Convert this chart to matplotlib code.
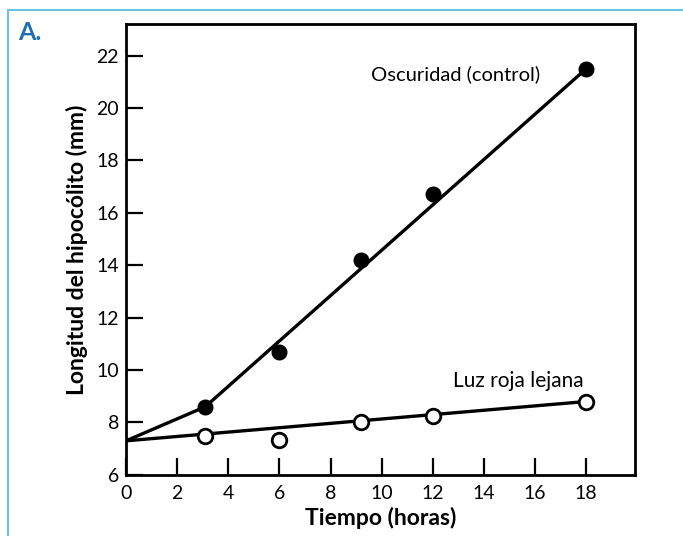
import matplotlib
matplotlib.use("Agg")
from matplotlib import pyplot as plt
from matplotlib.patches import Rectangle

# data
hours = [3.1, 6.0, 9.2, 12.0, 18.0]
dark_len = [8.6, 10.7, 14.2, 16.7, 21.5]      # Oscuridad (control)
farred_len = [7.5, 7.35, 8.0, 8.25, 8.8]      # Luz roja lejana

# drawn lines (start at t=0)
dark_line_x = [0, 3.1, 18.0]
dark_line_y = [7.3, 8.6, 21.5]
farred_line_x = [0, 18.0]
farred_line_y = [7.3, 8.8]

xticks = list(range(0, 20, 2))
yticks = list(range(6, 24, 2))

plt.rcParams['font.family'] = ['Lato', 'DejaVu Sans']

fig = plt.figure(figsize=(6.83, 5.36), dpi=100)
ax = fig.add_axes([0.1845, 0.114, 0.745, 0.841])

# outer frame of the panel
fig.patches.append(Rectangle((0.012, -0.01), 1.0, 0.992, transform=fig.transFigure,
                             fill=False, edgecolor='#6cc3e0', linewidth=1.5))

ax.plot(dark_line_x, dark_line_y, color='black', linewidth=2.4, zorder=2)
ax.plot(farred_line_x, farred_line_y, color='black', linewidth=2.4, zorder=2)
ax.plot(hours, dark_len, 'o', color='black', markersize=10.5, zorder=3)
ax.plot(hours, farred_len, 'o', markerfacecolor='white', markeredgecolor='black',
        markeredgewidth=2, markersize=10.5, zorder=3)

ax.set_xlim(0, 19.9)
ax.set_ylim(6, 23.2)
ax.set_xticks(xticks)
ax.set_yticks(yticks)
ax.tick_params(direction='in', length=12.5, width=1.6, labelsize=14)
ax.tick_params(axis='x', pad=7)
ax.tick_params(axis='y', pad=5)
for s in ax.spines.values():
    s.set_linewidth(2)

ax.set_xlabel('Tiempo (horas)', fontsize=16.5, fontweight='bold', labelpad=4)
ax.set_ylabel('Longitud del hipocólito (mm)', fontsize=16.5, fontweight='bold', labelpad=6)

ax.text(9.6, 21.27, 'Oscuridad (control)', fontsize=14.5, va='center', ha='left')
ax.text(12.8, 9.6, 'Luz roja lejana', fontsize=15, va='center', ha='left')

fig.text(0.026, 0.925, 'A.', fontsize=18, fontweight='bold', color='#1f6fb2')

fig.savefig('out.png', dpi=100)
